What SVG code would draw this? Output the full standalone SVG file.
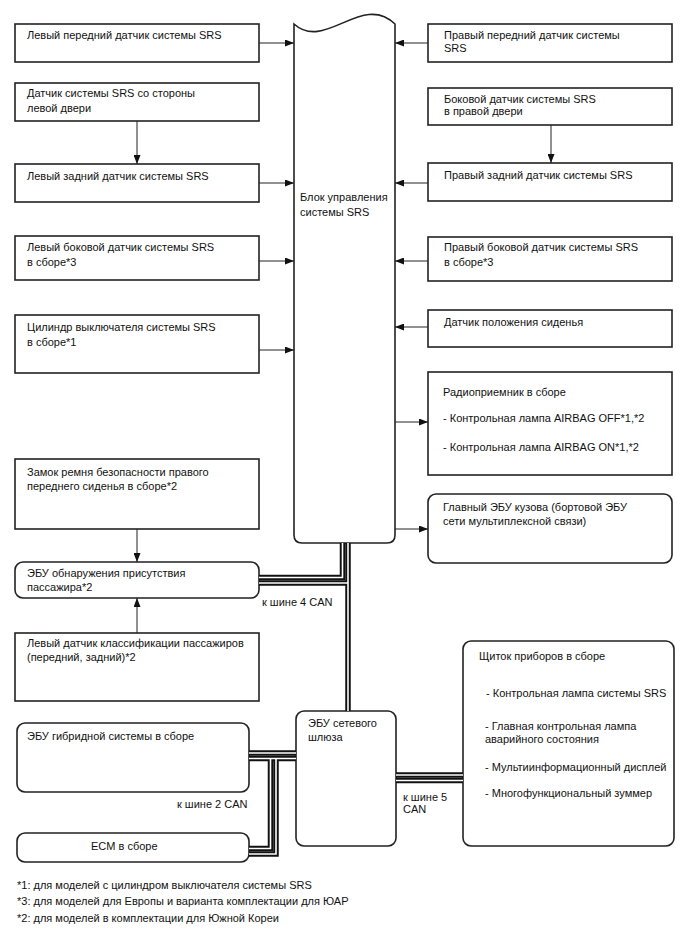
<svg xmlns="http://www.w3.org/2000/svg" width="688" height="949" viewBox="0 0 688 949">
<style>
.box{fill:#fff;stroke:#222;stroke-width:1.6}
.c{stroke:#222;stroke-width:1;fill:none;marker-end:url(#arr)}
.t{font-family:"Liberation Sans",Arial,sans-serif;font-size:11px;fill:#111}
.bb{stroke:#111;stroke-width:5.5;fill:none}
.bw{stroke:#fff;stroke-width:1.6;fill:none}
</style>
<defs>
<marker id="arr" markerUnits="userSpaceOnUse" markerWidth="9" markerHeight="7" refX="9" refY="3.5" orient="auto">
<path d="M0,0 L9,3.5 L0,7 z" fill="#111"/>
</marker>
</defs>
<rect width="688" height="949" fill="#fff"/>

<g id="srs-ecu">
<path class="box" d="M294,24 C325,52 362,-8 395,24 V535 Q395,543 387,543 H302 Q294,543 294,535 Z"/>
<text class="t" x="300" y="201">Блок управления</text>
<text class="t" x="300" y="216">системы SRS</text>
</g>

<g id="l1"><rect class="box" x="15" y="24" width="244" height="38"/><text class="t" x="27" y="39">Левый передний датчик системы SRS</text></g>
<g id="l2"><rect class="box" x="15" y="83" width="244" height="38"/><text class="t" x="27" y="97">Датчик системы SRS со стороны</text><text class="t" x="27" y="112">левой двери</text></g>
<g id="l3"><rect class="box" x="15" y="164" width="244" height="38"/><text class="t" x="27" y="180">Левый задний датчик системы SRS</text></g>
<g id="l4"><rect class="box" x="15" y="236" width="244" height="44"/><text class="t" x="27" y="251">Левый боковой датчик системы SRS</text><text class="t" x="27" y="266">в сборе*3</text></g>
<g id="l5"><rect class="box" x="15" y="315" width="244" height="58"/><text class="t" x="27" y="331">Цилиндр выключателя системы SRS</text><text class="t" x="27" y="346">в сборе*1</text></g>
<g id="l6"><rect class="box" x="15" y="459" width="244" height="70"/><text class="t" x="27" y="476">Замок ремня безопасности правого</text><text class="t" x="27" y="490">переднего сиденья в сборе*2</text></g>
<g id="l7"><rect class="box" x="15" y="562" width="244" height="36" rx="8"/><text class="t" x="27" y="577">ЭБУ обнаружения присутствия</text><text class="t" x="27" y="591">пассажира*2</text></g>
<g id="l8"><rect class="box" x="15" y="633" width="244" height="68"/><text class="t" x="27" y="647">Левый датчик классификации пассажиров</text><text class="t" x="27" y="661">(передний, задний)*2</text></g>

<g id="r1"><rect class="box" x="428" y="24" width="244" height="38"/><text class="t" x="444" y="39">Правый передний датчик системы</text><text class="t" x="444" y="52">SRS</text></g>
<g id="r2"><rect class="box" x="428" y="88" width="244" height="37"/><text class="t" x="444" y="103">Боковой датчик системы SRS</text><text class="t" x="444" y="115">в правой двери</text></g>
<g id="r3"><rect class="box" x="428" y="163" width="244" height="38"/><text class="t" x="444" y="179">Правый задний датчик системы SRS</text></g>
<g id="r4"><rect class="box" x="428" y="237" width="244" height="44"/><text class="t" x="444" y="251">Правый боковой датчик системы SRS</text><text class="t" x="444" y="266">в сборе*3</text></g>
<g id="r5"><rect class="box" x="428" y="310" width="244" height="37"/><text class="t" x="444" y="326">Датчик положения сиденья</text></g>
<g id="r6"><rect class="box" x="428" y="372" width="244" height="103"/><text class="t" x="443" y="396">Радиоприемник в сборе</text><text class="t" x="443" y="422">- Контрольная лампа AIRBAG OFF*1,*2</text><text class="t" x="443" y="451">- Контрольная лампа AIRBAG ON*1,*2</text></g>
<g id="r7"><rect class="box" x="428" y="494" width="244" height="69" rx="8"/><text class="t" x="443" y="511">Главный ЭБУ кузова (бортовой ЭБУ</text><text class="t" x="443" y="525">сети мультиплексной связи)</text></g>

<g id="cluster"><rect class="box" x="463" y="641" width="211" height="205" rx="8"/>
<text class="t" x="479" y="660">Щиток приборов в сборе</text>
<text class="t" x="486" y="697">- Контрольная лампа системы SRS</text>
<text class="t" x="485" y="730">- Главная контрольная лампа</text>
<text class="t" x="485" y="743">аварийного состояния</text>
<text class="t" x="485" y="771">- Мультиинформационный дисплей</text>
<text class="t" x="485" y="797">- Многофункциональный зуммер</text></g>
<g id="gateway"><rect class="box" x="296" y="711" width="100" height="135" rx="8"/><text class="t" x="308" y="727">ЭБУ сетевого</text><text class="t" x="308" y="741">шлюза</text></g>
<g id="hybrid"><rect class="box" x="17" y="723" width="232" height="69" rx="8"/><text class="t" x="27" y="740">ЭБУ гибридной системы в сборе</text></g>
<g id="ecm"><rect class="box" x="17" y="833" width="232" height="29" rx="8"/><text class="t" x="91" y="850">ECM в сборе</text></g>

<g id="connectors">
<path class="c" d="M259,43 H294"/>
<path class="c" d="M259,183 H294"/>
<path class="c" d="M259,261 H294"/>
<path class="c" d="M259,350 H294"/>
<path class="c" d="M137,121 V164"/>
<path class="c" d="M137,529 V562"/>
<path class="c" d="M137,633 V598"/>
<path class="c" d="M428,43 H395"/>
<path class="c" d="M428,183 H395"/>
<path class="c" d="M428,261 H395"/>
<path class="c" d="M428,327 H395"/>
<path class="c" d="M551,125 V163"/>
<path class="c" d="M395,422 H428"/>
<path class="c" d="M395,529 H428"/>
<g id="can-bus">
<path class="bb" d="M342.5,543 V577.5 H259"/>
<path class="bb" d="M348,543 V711"/>
<path class="bb" d="M259,583 H348"/>
<path class="bb" d="M249,753 H296"/>
<path class="bb" d="M249,758.5 H296"/>
<path class="bb" d="M270.5,758.5 V848.5 H249"/>
<path class="bb" d="M276,758.5 V854 H249"/>
<path class="bb" d="M396,775 H463"/>
<path class="bb" d="M396,780.5 H463"/>
<path class="bw" d="M342.5,543 V577.5 H259"/>
<path class="bw" d="M348,543 V711"/>
<path class="bw" d="M259,583 H348"/>
<path class="bw" d="M249,753 H296"/>
<path class="bw" d="M249,758.5 H296"/>
<path class="bw" d="M270.5,758.5 V848.5 H249"/>
<path class="bw" d="M276,758.5 V854 H249"/>
<path class="bw" d="M396,775 H463"/>
<path class="bw" d="M396,780.5 H463"/>
</g>
</g>

<g id="labels">
<text class="t" x="262" y="606">к шине 4 CAN</text>
<text class="t" x="177" y="808">к шине 2 CAN</text>
<text class="t" x="403" y="801">к шине 5</text>
<text class="t" x="403" y="813">CAN</text>
</g>
<g id="notes">
<text class="t" x="17" y="889">*1: для моделей с цилиндром выключателя системы SRS</text>
<text class="t" x="17" y="905">*3: для моделей для Европы и варианта комплектации для ЮАР</text>
<text class="t" x="17" y="922">*2: для моделей в комплектации для Южной Кореи</text>
</g>
</svg>
